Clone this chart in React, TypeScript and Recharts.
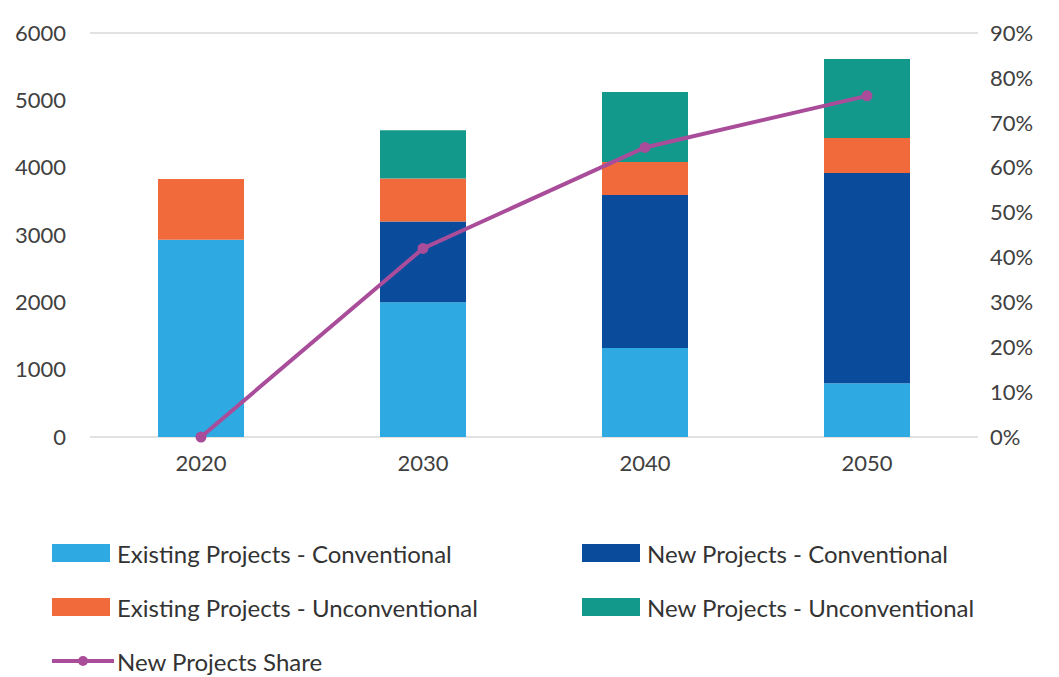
import { ComposedChart, Bar, Line, XAxis, YAxis, CartesianGrid } from 'recharts'

const years = ['2020', '2030', '2040', '2050']
const existingConventional = [2930, 2000, 1320, 800]
const newConventional = [0, 1200, 2275, 3120]
const existingUnconventional = [900, 640, 490, 520]
const newUnconventional = [0, 715, 1040, 1175]
const newProjectsShare = [0, 42, 64.5, 76]

const leftTicks = [0, 1000, 2000, 3000, 4000, 5000, 6000]
const rightTicks = [0, 10, 20, 30, 40, 50, 60, 70, 80, 90]

const data = years.map((year, i) => ({
  year,
  existingConventional: existingConventional[i],
  newConventional: newConventional[i],
  existingUnconventional: existingUnconventional[i],
  newUnconventional: newUnconventional[i],
  share: newProjectsShare[i],
}))

const FONT = 'Lato, "Open Sans", sans-serif'
const tickStyle = { fill: '#404040', fontSize: 22, fontFamily: FONT }

const colors = {
  existingConventional: '#2ea9e1',
  newConventional: '#0a4b9c',
  existingUnconventional: '#f06a3c',
  newUnconventional: '#13998b',
  share: '#a94d9a',
}

const legendItems = [
  { label: 'Existing Projects - Conventional', color: colors.existingConventional, left: 52, top: 539 },
  { label: 'New Projects - Conventional', color: colors.newConventional, left: 582, top: 539 },
  { label: 'Existing Projects - Unconventional', color: colors.existingUnconventional, left: 52, top: 593 },
  { label: 'New Projects - Unconventional', color: colors.newUnconventional, left: 582, top: 593 },
]

const legendText = {
  position: 'absolute' as const,
  display: 'flex',
  alignItems: 'center',
  fontFamily: FONT,
  fontSize: 24,
  color: '#333',
  height: 28,
}

function LegendBox() {
  return (
    <>
      {legendItems.map((item) => (
        <div key={item.label} style={{ ...legendText, left: item.left, top: item.top }}>
          <span style={{ width: 58, height: 18, background: item.color, marginRight: 7 }} />
          {item.label}
        </div>
      ))}
      <div style={{ ...legendText, left: 52, top: 647 }}>
        <svg width={62} height={14} style={{ marginRight: 3 }}>
          <line x1={0} y1={7} x2={62} y2={7} stroke={colors.share} strokeWidth={4} />
          <circle cx={31} cy={7} r={5} fill={colors.share} />
        </svg>
        New Projects Share
      </div>
    </>
  )
}

export default function App() {
  return (
    <div style={{ position: 'absolute', left: 0, top: 0, width: 1059, height: 677, background: '#fff' }}>
      <ComposedChart
        width={1059}
        height={677}
        data={data}
        margin={{ top: 33, right: 0, left: 0, bottom: 200 }}
        barSize={86}
      >
        <CartesianGrid vertical={false} stroke="#d9d9d9" strokeWidth={1.5} />
        <XAxis
          dataKey="year"
          axisLine={false}
          tickLine={false}
          tick={tickStyle}
          tickMargin={12}
          height={40}
        />
        <YAxis
          yAxisId="left"
          domain={[0, 6000]}
          ticks={leftTicks}
          axisLine={false}
          tickLine={false}
          tick={tickStyle}
          tickMargin={18}
          width={90}
        />
        <YAxis
          yAxisId="right"
          orientation="right"
          domain={[0, 90]}
          ticks={rightTicks}
          tickFormatter={(v) => `${v}%`}
          axisLine={false}
          tickLine={false}
          tick={tickStyle}
          tickMargin={6}
          width={81}
        />
        <Bar yAxisId="left" dataKey="existingConventional" stackId="a" fill={colors.existingConventional} isAnimationActive={false} />
        <Bar yAxisId="left" dataKey="newConventional" stackId="a" fill={colors.newConventional} isAnimationActive={false} />
        <Bar yAxisId="left" dataKey="existingUnconventional" stackId="a" fill={colors.existingUnconventional} isAnimationActive={false} />
        <Bar yAxisId="left" dataKey="newUnconventional" stackId="a" fill={colors.newUnconventional} isAnimationActive={false} />
        <Line
          yAxisId="right"
          dataKey="share"
          type="linear"
          stroke={colors.share}
          strokeWidth={4}
          dot={{ r: 3.5, fill: colors.share, stroke: colors.share }}
          isAnimationActive={false}
        />
      </ComposedChart>
      <LegendBox />
    </div>
  )
}
